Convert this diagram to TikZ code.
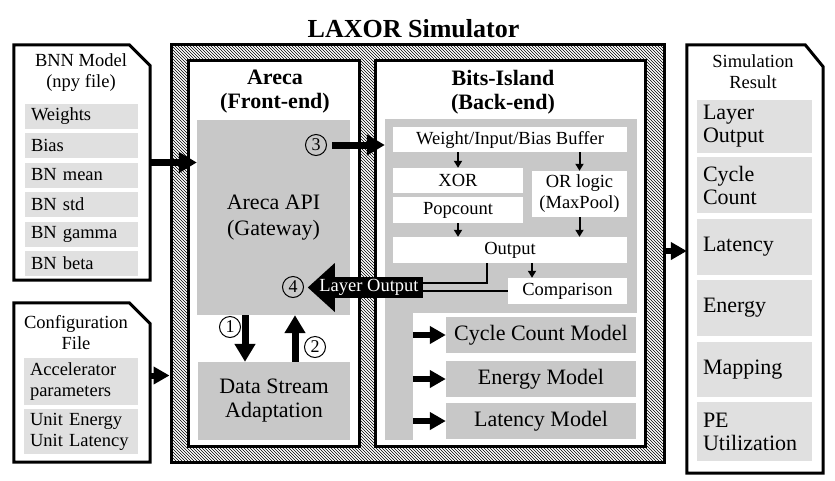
\documentclass[tikz,border=0pt]{standalone}
\usepackage{fontspec}
\setmainfont{Liberation Serif}
\usetikzlibrary{arrows.meta,patterns,positioning}

\definecolor{boxgray}{HTML}{C8C8C8}
\definecolor{itemgray}{HTML}{E0E0E0}
\newcommand{\smallfs}{\fontsize{18.5}{21}\selectfont}
\newcommand{\largefs}{\fontsize{22}{24}\selectfont}
\newcommand{\resfs}{\fontsize{22}{23}\selectfont}
\newcommand{\apifs}{\fontsize{22}{26}\selectfont}

\tikzset{
  filebox/.style={line width=3pt, line join=miter},
  fileitem/.style={fill=itemgray, align=left, inner xsep=6pt, inner ysep=0pt, text width=#1, font=\smallfs},
  resitem/.style={fill=itemgray, align=left, inner xsep=6pt, inner ysep=0pt, text width=103pt, minimum height=#1, font=\resfs},
  frame/.style={draw, line width=3pt, fill=white},
  whitebox/.style={fill=white, inner sep=0pt, font=\smallfs},
  graybox/.style={fill=boxgray, inner sep=0pt, align=center, font=\largefs},
  circ/.style={circle, draw, line width=1pt, inner sep=0pt, minimum size=21pt, font=\fontsize{18}{18}\selectfont},
  bigarrow/.style={line width=7pt, -{Triangle[length=18pt,width=20pt]}},
  midarrow/.style={line width=6pt, -{Triangle[length=16pt,width=17pt]}},
  thinarrow/.style={line width=2pt, -{Triangle[length=7pt,width=8pt]}}
}

\begin{document}
\begin{tikzpicture}[x=1pt,y=-1pt]
\useasboundingbox (0,0) rectangle (835,480);

\node[font=\fontsize{26}{28}\selectfont\bfseries] (title) at (413.5,29) {LAXOR Simulator};

% input files
\node[minimum width=136, minimum height=235] (bnn) at (82,162.5) {};
\draw[filebox] (bnn.north west) -- ([xshift=-21pt]bnn.north east) -- ([yshift=-21pt]bnn.north east) -- (bnn.south east) -- (bnn.south west) -- cycle;
\node[font=\smallfs, align=center] (bnntitle) at (81,73) {BNN Model\\(npy file)};
\node[fileitem=101pt, minimum height=25] (weights) at (81.5,116.5) {Weights};
\node[fileitem=101pt, minimum height=25] (bias) at (81.5,145.5) {Bias};
\node[fileitem=101pt, minimum height=25] (bnmean) at (81.5,175) {BN mean};
\node[fileitem=101pt, minimum height=25] (bnstd) at (81.5,204.5) {BN std};
\node[fileitem=101pt, minimum height=25] (bngamma) at (81.5,234) {BN gamma};
\node[fileitem=101pt, minimum height=25] (bnbeta) at (81.5,263.5) {BN beta};

\node[minimum width=136, minimum height=159] (cfg) at (82,382.5) {};
\draw[filebox] (cfg.north west) -- ([xshift=-21pt]cfg.north east) -- ([yshift=-21pt]cfg.north east) -- (cfg.south east) -- (cfg.south west) -- cycle;
\node[font=\smallfs, align=center] (cfgtitle) at (76,333) {Configuration\\File};
\node[fileitem=102pt, minimum height=47] (accel) at (81,381.5) {Accelerator\\parameters};
\node[fileitem=102pt, minimum height=45] (unit) at (81,431.5) {Unit Energy\\Unit Latency};

% simulator
\node[draw, line width=3pt, pattern=north west lines, minimum width=493, minimum height=418] (laxor) at (417.5,253) {};
\node[frame, minimum width=171, minimum height=386] (areca) at (273.5,253) {};
\node[frame, minimum width=270, minimum height=386] (bits) at (510,253) {};

\node[font=\largefs\bfseries, align=center] (arecatitle) at (275,92) {Areca\\(Front-end)};
\node[font=\largefs\bfseries, align=center] (bitstitle) at (503,92) {Bits-Island\\(Back-end)};

\node[graybox, minimum width=153, minimum height=195, font=\apifs] (api) at (273.5,217.5) {Areca API\\(Gateway)};
\node[graybox, minimum width=152, minimum height=78] (dsa) at (274,401) {Data Stream\\Adaptation};

\draw[bigarrow] ([xshift=-28.5pt]api.south) -- ([xshift=-28.5pt]api.south |- dsa.north);
\draw[bigarrow] ([xshift=21pt]dsa.north) -- ([xshift=21pt]dsa.north |- api.south);
\node[circ] (c1) at (230,327) {1};
\node[circ] (c2) at (315,347) {2};

\node[fill=boxgray, minimum width=252, minimum height=321] (bgray) at (511,279.5) {};
\node[fill=white, minimum width=224, minimum height=127] (bwhite) at (525,376.5) {};

\node[whitebox, minimum width=234, minimum height=25] (buf) at (510,139.5) {Weight/Input/Bias Buffer};
\node[whitebox, minimum width=130, minimum height=25] (xor) at (458,180.5) {XOR};
\node[whitebox, minimum width=130, minimum height=26] (pop) at (458,210) {Popcount};
\node[whitebox, minimum width=95, minimum height=46, align=center] (orl) at (579.5,194) {OR logic\\(MaxPool)};
\node[whitebox, minimum width=234, minimum height=26] (out) at (510,250) {Output};
\node[whitebox, minimum width=119, minimum height=26] (cmp) at (567.5,291) {Comparison};

\draw[thinarrow] (xor.north |- buf.south) -- (xor.north);
\draw[thinarrow] (orl.north |- buf.south) -- (orl.north);
\draw[thinarrow] (pop.south) -- (pop.south |- out.north);
\draw[thinarrow] (orl.south) -- (orl.south |- out.north);
\draw[thinarrow] ([xshift=22pt]out.south) -- ([xshift=22pt]out.south |- cmp.north);

\node[fill=black, minimum width=88, minimum height=21, inner sep=0pt] (lo) at (379,287.5) {};
\fill (lo.west) ++(0,-24.5) -- ++(-27,24.5) -- ++(27,24.5) -- cycle;
\node[text=white, font=\smallfs, inner sep=0pt] (lotext) at (369,287) {Layer Output};
\draw[line width=2.5pt] ([xshift=-23pt]out.south) |- ([yshift=4.5pt]lo.east);
\draw[line width=2.5pt] (cmp.west) -- (cmp.west -| lo.east);
\node[circ] (c4) at (293,287) {4};

\coordinate (a3) at (332,145);
\draw[bigarrow] (a3) -- (a3 -| bgray.west);
\node[circ] (c3) at (316,145) {3};

\node[graybox, minimum width=190, minimum height=36] (ccm) at (541,335) {Cycle Count Model};
\node[graybox, minimum width=190, minimum height=36] (enm) at (541,379) {Energy Model};
\node[graybox, minimum width=190, minimum height=36] (ltm) at (541,421) {Latency Model};
\draw[midarrow] (ccm.west -| bwhite.west) -- (ccm.west);
\draw[midarrow] (enm.west -| bwhite.west) -- (enm.west);
\draw[midarrow] (ltm.west -| bwhite.west) -- (ltm.west);

% result file
\node[minimum width=136, minimum height=428] (simres) at (755,259) {};
\draw[filebox] (simres.north west) -- ([xshift=-18pt]simres.north east) -- ([yshift=-22pt]simres.north east) -- (simres.south east) -- (simres.south west) -- cycle;
\node[font=\smallfs, align=center] (simtitle) at (753,71.5) {Simulation\\Result};
\node[resitem=53] (rlayer) at (754.5,126.5) {Layer\\Output};
\node[resitem=56] (rcycle) at (754.5,185) {Cycle\\Count};
\node[resitem=56] (rlat) at (754.5,247) {Latency};
\node[resitem=56] (renergy) at (754.5,308) {Energy};
\node[resitem=55] (rmap) at (754.5,369.5) {Mapping};
\node[resitem=59] (rpe) at (754.5,431.5) {PE\\Utilization};

% connections
\draw[bigarrow] (bnn.east) -- (bnn.east -| api.west);
\draw[midarrow] ([yshift=7pt]cfg.east) -- ([yshift=7pt]cfg.east -| laxor.west);
\draw[midarrow] ([yshift=2pt]laxor.east) -- ([yshift=2pt]laxor.east -| simres.west);
\end{tikzpicture}
\end{document}
